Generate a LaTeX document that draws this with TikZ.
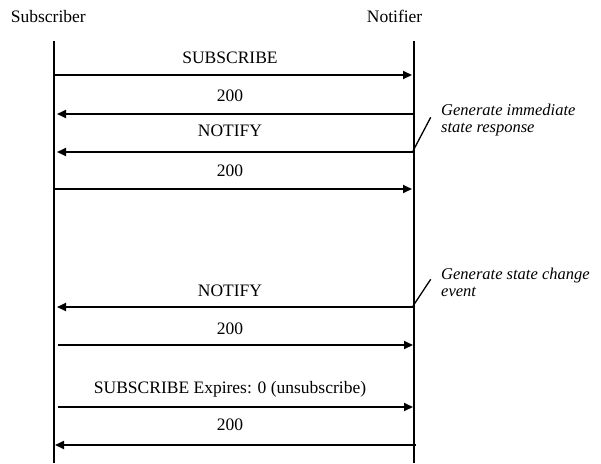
\documentclass[tikz,border=0pt]{standalone}
\usepackage{fontspec}
\setmainfont{Liberation Serif}
\usetikzlibrary{arrows.meta}
\begin{document}
\begin{tikzpicture}[x=1pt,y=-1pt,
  life/.style={line width=1.8pt},
  msg/.style={line width=1.8pt,-{Triangle[length=9pt,width=8pt]}},
  slash/.style={line width=1.3pt},
  lbl/.style={anchor=base,inner sep=0pt,font=\fontsize{17.5}{20}\selectfont},
  head/.style={anchor=base west,inner sep=0pt,font=\fontsize{17.5}{20}\selectfont},
  note/.style={anchor=base west,inner sep=0pt,font=\fontsize{16.5}{20}\selectfont\itshape}]
\useasboundingbox (0,0) rectangle (601,463);
% headers
\node[head] (sub) at (10.7,22.7) {Subscriber};
\node[head] (notif) at (366.7,22.7) {Notifier};
% lifelines
\coordinate (Lt) at (54,41); \coordinate (Lb) at (54,463);
\coordinate (Rt) at (414,41); \coordinate (Rb) at (414,463);
\draw[life] (Lt) -- (Lb);
\draw[life] (Rt) -- (Rb);
% message 1
\coordinate (m1s) at (54,75); \coordinate (m1e) at (412,75);
\draw[msg] (m1s) -- (m1e);
\node[lbl] (t1) at (230,63.3) {SUBSCRIBE};
% message 2
\coordinate (m2s) at (414,114); \coordinate (m2e) at (57,114);
\draw[msg] (m2s) -- (m2e);
\node[lbl] (t2) at (230,101) {200};
% message 3
\coordinate (m3s) at (414,152); \coordinate (m3e) at (57,152);
\draw[msg] (m3s) -- (m3e);
\node[lbl] (t3) at (230,136.7) {NOTIFY};
% message 4
\coordinate (m4s) at (54,189); \coordinate (m4e) at (412,189);
\draw[msg] (m4s) -- (m4e);
\node[lbl] (t4) at (230,176) {200};
% message 5
\coordinate (m5s) at (414,307); \coordinate (m5e) at (57,307);
\draw[msg] (m5s) -- (m5e);
\node[lbl] (t5) at (230,296) {NOTIFY};
% message 6
\coordinate (m6s) at (58,345); \coordinate (m6e) at (413,345);
\draw[msg] (m6s) -- (m6e);
\node[lbl] (t6) at (230,334) {200};
% message 7
\coordinate (m7s) at (58,407); \coordinate (m7e) at (413,407);
\draw[msg] (m7s) -- (m7e);
\node[lbl] (t7) at (230,393.3) {SUBSCRIBE Expires: 0 (unsubscribe)};
% message 8
\coordinate (m8s) at (416,445); \coordinate (m8e) at (55,445);
\draw[msg] (m8s) -- (m8e);
\node[lbl] (t8) at (230,430.7) {200};
% notes
\node[note] (n1a) at (441,115) {Generate immediate};
\node[note] (n1b) at (441,132) {state response};
\coordinate (s1a) at (413,151); \coordinate (s1b) at (430.7,117.3);
\draw[slash] (s1a) -- (s1b);
\node[note] (n2a) at (441,279) {Generate state change};
\node[note] (n2b) at (441,296) {event};
\coordinate (s2a) at (413,306); \coordinate (s2b) at (430.7,279.3);
\draw[slash] (s2a) -- (s2b);
\end{tikzpicture}
\end{document}
